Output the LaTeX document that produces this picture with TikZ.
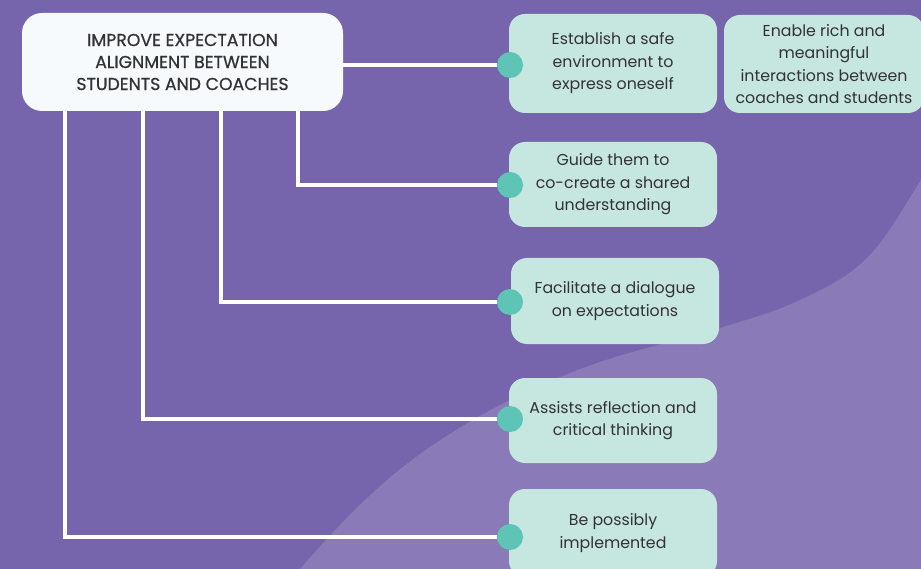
\documentclass[tikz,border=0pt]{standalone}
\usepackage{fontspec}
\setmainfont{Poppins}
\newfontfamily\titlefont{Poppins}[BoldFont={Poppins},BoldFeatures={FakeBold=0.7}]
\definecolor{bgpurple}{HTML}{7665AC}
\definecolor{lightpurple}{HTML}{8A7BB8}
\definecolor{boxfill}{HTML}{C6E6E0}
\definecolor{dotfill}{HTML}{5EC4B6}
\definecolor{mainfill}{HTML}{F7FAFC}
\definecolor{txt}{HTML}{333333}
\tikzset{
  mainbox/.style={rectangle, rounded corners=20pt, fill=mainfill, text=txt, align=center,
    minimum width=321pt, minimum height=98pt, inner sep=0pt,
    font=\titlefont\bfseries\fontsize{17.3}{22}\selectfont},
  itembox/.style={rectangle, rounded corners=16pt, fill=boxfill, text=txt, align=center,
    minimum width=208pt, inner sep=0pt, font=\fontsize{15.8}{22.5}\selectfont},
  dotnode/.style={circle, fill=dotfill, minimum size=26pt, inner sep=0pt},
  conn/.style={draw=white, line width=4pt}
}
\begin{document}
\begin{tikzpicture}[x=1pt,y=-1pt]
\useasboundingbox (0,0) rectangle (921,569);
\fill[bgpurple] (0,0) rectangle (921,569);
\begin{scope}
\clip (0,0) rectangle (921,569);
\fill[lightpurple] plot[smooth, tension=0.6] coordinates {(270,610) (300,569) (365,500) (430,447) (510,400) (600,362) (720,328) (800,300) (867,258) (921,180) (950,130)} -- (960,610) -- cycle;
\end{scope}
% central node
\node[mainbox] (c) at (182.5,62) {IMPROVE EXPECTATION\\ALIGNMENT BETWEEN\\STUDENTS AND COACHES};
% item boxes
\node[itembox, minimum height=99pt] (b1) at (613,63.5) {Establish a safe\\environment to\\express oneself};
\node[itembox, minimum width=200pt, minimum height=98pt] (b6) at (824,64) {Enable rich and\\meaningful\\interactions between\\coaches and students};
\node[itembox, minimum height=85pt] (b2) at (613,184.5) {Guide them to\\co-create a shared\\understanding};
\node[itembox, minimum height=86pt] (b3) at (615,301) {Facilitate a dialogue\\on expectations};
\node[itembox, minimum height=85pt] (b4) at (613,420.5) {Assists reflection and\\critical thinking};
\node[itembox, minimum height=88pt] (b5) at (613,533) {Be possibly\\implemented};
% dots
\node[dotnode] (d1) at (510,65) {};
\node[dotnode] (d2) at (510,185) {};
\node[dotnode] (d3) at (510,302) {};
\node[dotnode] (d4) at (510,419) {};
\node[dotnode] (d5) at (510,537) {};
% vertical positions
\coordinate (v2) at (298,0);
\coordinate (v3) at (221,0);
\coordinate (v4) at (143,0);
\coordinate (v5) at (65,0);
% connectors
\draw[conn] (c.east |- d1) -- (d1);
\draw[conn] (v2 |- c.south) |- (d2);
\draw[conn] (v3 |- c.south) |- (d3);
\draw[conn] (v4 |- c.south) |- (d4);
\draw[conn] (v5 |- c.south) |- (d5);
\end{tikzpicture}
\end{document}
